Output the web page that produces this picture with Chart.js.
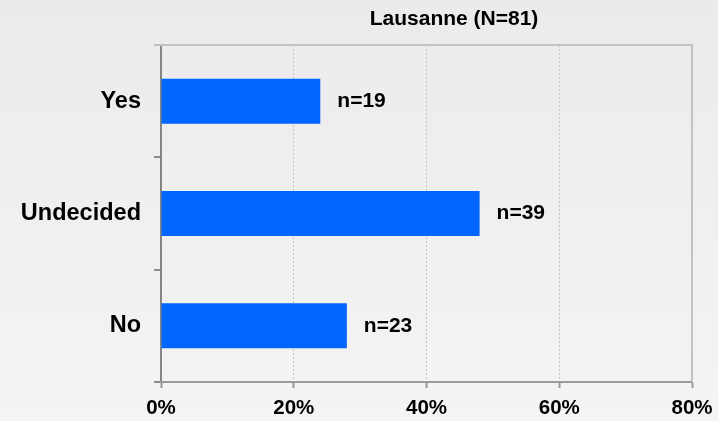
<!DOCTYPE html>
<html>
<head>
<meta charset="utf-8">
<script src="https://cdn.jsdelivr.net/npm/chart.js@4"></script>
<style>
html, body { margin: 0; padding: 0; }
body { width: 718px; height: 421px; overflow: hidden; background: linear-gradient(#ebebeb, #f4f4f4); }
</style>
</head>
<body>
<canvas id="barChart" width="718" height="421"></canvas>
<script>
// chart values
var categories = ['Yes', 'Undecided', 'No'];
var shares = [24, 48, 28];
var countLabels = ['n=19', 'n=39', 'n=23'];
var xTicks = [0, 20, 40, 60, 80];
var chartTitle = 'Lausanne (N=81)';

var fontFamily = "'Liberation Sans', Arial, sans-serif";
var ctx1 = document.getElementById('barChart').getContext('2d');

// top + right frame of the plot area
var framePlugin = {
    id: 'frame',
    beforeDatasetsDraw: function(chart) {
        var a = chart.chartArea, c = chart.ctx;
        c.save();
        c.strokeStyle = '#c2c2c2';
        c.lineWidth = 2;
        c.beginPath();
        c.moveTo(a.left - 7, a.top);
        c.lineTo(a.right, a.top);
        c.lineTo(a.right, a.bottom);
        c.stroke();
        c.restore();
    }
};

// n=.. labels next to the bars and the title
var labelPlugin = {
    id: 'barLabels',
    afterDatasetsDraw: function(chart) {
        var c = chart.ctx;
        var meta = chart.getDatasetMeta(0);
        c.save();
        c.fillStyle = '#000';
        c.font = 'bold 21px ' + fontFamily;
        c.textAlign = 'left';
        c.textBaseline = 'middle';
        meta.data.forEach(function(bar, i) {
            c.fillText(countLabels[i], bar.x + 17, bar.y);
        });
        c.textAlign = 'center';
        c.fillText(chartTitle, 454, 19);
        c.restore();
    }
};

var barChart = new Chart(ctx1, {
    type: 'bar',
    data: {
        labels: categories,
        datasets: [{
            data: shares,
            backgroundColor: '#0066ff',
            borderWidth: 0,
            barPercentage: 0.4,
            categoryPercentage: 1
        }]
    },
    options: {
        indexAxis: 'y',
        responsive: false,
        animation: false,
        layout: { padding: { top: 45, right: 26, left: 0, bottom: 0 } },
        plugins: {
            legend: { display: false },
            tooltip: { enabled: false }
        },
        scales: {
            y: {
                afterFit: function(scale) {
                    scale.width = 161;
                    scale.paddingTop = 0;
                    scale.paddingBottom = 0;
                },
                grid: {
                    drawOnChartArea: false,
                    drawTicks: true,
                    tickLength: 7,
                    color: '#8c8c8c',
                    lineWidth: 2
                },
                border: { color: '#858585', width: 2 },
                ticks: {
                    color: '#000',
                    padding: 13,
                    font: { family: fontFamily, size: 23.5, weight: 'bold' }
                }
            },
            x: {
                min: 0,
                max: 80,
                afterFit: function(scale) {
                    scale.height = 39;
                    scale.paddingLeft = 0;
                    scale.paddingRight = 0;
                },
                afterBuildTicks: function(scale) {
                    scale.ticks = xTicks.map(function(v) { return { value: v }; });
                },
                grid: {
                    color: function(c) {
                        var v = c.tick ? c.tick.value : 0;
                        return (v === 0 || v === 80) ? 'rgba(0,0,0,0)' : '#c4c4c4';
                    },
                    lineWidth: 1,
                    tickLength: 6,
                    tickColor: '#999',
                    tickWidth: 2,
                    tickBorderDash: []
                },
                border: { color: '#9a9a9a', width: 2, dash: [2, 2] },
                ticks: {
                    color: '#000',
                    padding: 8,
                    maxRotation: 0,
                    font: { family: fontFamily, size: 20.5, weight: 'bold' },
                    callback: function(value) { return value + '%'; }
                }
            }
        }
    },
    plugins: [framePlugin, labelPlugin]
});
</script>
</body>
</html>
